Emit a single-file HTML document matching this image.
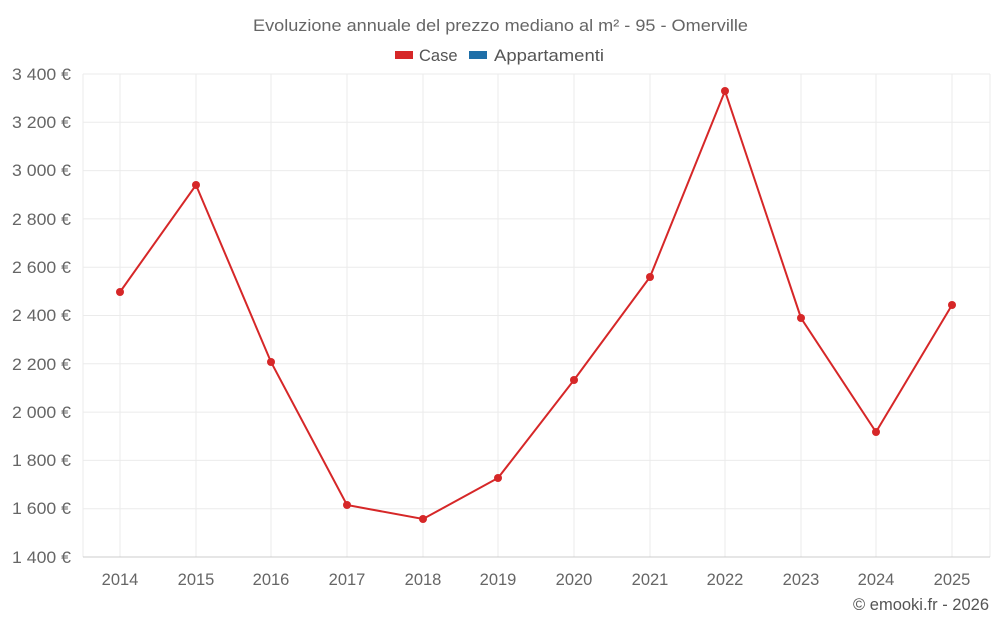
<!DOCTYPE html>
<html><head><meta charset="utf-8"><style>
body{margin:0;background:#fff;font-family:"Liberation Sans",sans-serif;}
</style></head><body>
<svg width="1000" height="625" xmlns="http://www.w3.org/2000/svg" font-family="Liberation Sans, sans-serif">
<rect width="1000" height="625" fill="#fff"/>
<text x="253" y="31" font-size="17" fill="#666" textLength="495" lengthAdjust="spacingAndGlyphs">Evoluzione annuale del prezzo mediano al m² - 95 - Omerville</text>
<rect x="395" y="51" width="18" height="8" fill="#d62728"/>
<text x="419" y="61" font-size="16.5" fill="#555">Case</text>
<rect x="469" y="51" width="18" height="8" fill="#1f6fa8"/>
<text x="494" y="61" font-size="16.5" fill="#555" textLength="110" lengthAdjust="spacingAndGlyphs">Appartamenti</text>
<g stroke="#ebebeb" stroke-width="1">
<line x1="83" y1="74" x2="990" y2="74"/><line x1="83" y1="122.3" x2="990" y2="122.3"/>
<line x1="83" y1="170.6" x2="990" y2="170.6"/><line x1="83" y1="218.9" x2="990" y2="218.9"/>
<line x1="83" y1="267.2" x2="990" y2="267.2"/><line x1="83" y1="315.5" x2="990" y2="315.5"/>
<line x1="83" y1="363.8" x2="990" y2="363.8"/><line x1="83" y1="412.1" x2="990" y2="412.1"/>
<line x1="83" y1="460.4" x2="990" y2="460.4"/><line x1="83" y1="508.7" x2="990" y2="508.7"/>
<line x1="83" y1="74" x2="83" y2="557"/>
<line x1="120" y1="74" x2="120" y2="557"/><line x1="196" y1="74" x2="196" y2="557"/>
<line x1="271" y1="74" x2="271" y2="557"/><line x1="347" y1="74" x2="347" y2="557"/>
<line x1="423" y1="74" x2="423" y2="557"/><line x1="498" y1="74" x2="498" y2="557"/>
<line x1="574" y1="74" x2="574" y2="557"/><line x1="650" y1="74" x2="650" y2="557"/>
<line x1="725" y1="74" x2="725" y2="557"/><line x1="801" y1="74" x2="801" y2="557"/>
<line x1="876" y1="74" x2="876" y2="557"/><line x1="952" y1="74" x2="952" y2="557"/>
<line x1="990" y1="74" x2="990" y2="557"/>
</g>
<line x1="83" y1="557" x2="990" y2="557" stroke="#ccc"/>
<g font-size="16.5" fill="#666" text-anchor="end">
<text x="71" y="80" textLength="59" lengthAdjust="spacingAndGlyphs">3 400 €</text><text x="71" y="128" textLength="59" lengthAdjust="spacingAndGlyphs">3 200 €</text><text x="71" y="176" textLength="59" lengthAdjust="spacingAndGlyphs">3 000 €</text>
<text x="71" y="225" textLength="59" lengthAdjust="spacingAndGlyphs">2 800 €</text><text x="71" y="273" textLength="59" lengthAdjust="spacingAndGlyphs">2 600 €</text><text x="71" y="321" textLength="59" lengthAdjust="spacingAndGlyphs">2 400 €</text>
<text x="71" y="370" textLength="59" lengthAdjust="spacingAndGlyphs">2 200 €</text><text x="71" y="418" textLength="59" lengthAdjust="spacingAndGlyphs">2 000 €</text><text x="71" y="466" textLength="59" lengthAdjust="spacingAndGlyphs">1 800 €</text>
<text x="71" y="514" textLength="59" lengthAdjust="spacingAndGlyphs">1 600 €</text><text x="71" y="563" textLength="59" lengthAdjust="spacingAndGlyphs">1 400 €</text>
</g>
<g font-size="16.5" fill="#666" text-anchor="middle">
<text x="120" y="585">2014</text><text x="196" y="585">2015</text><text x="271" y="585">2016</text>
<text x="347" y="585">2017</text><text x="423" y="585">2018</text><text x="498" y="585">2019</text>
<text x="574" y="585">2020</text><text x="650" y="585">2021</text><text x="725" y="585">2022</text>
<text x="801" y="585">2023</text><text x="876" y="585">2024</text><text x="952" y="585">2025</text>
</g>
<polyline fill="none" stroke="#d62728" stroke-width="2" points="120,292 196,185 271,362 347,505 423,519 498,478 574,380 650,277 725,91 801,318 876,432 952,305"/>
<g fill="#d62728">
<circle cx="120" cy="292" r="4"/><circle cx="196" cy="185" r="4"/><circle cx="271" cy="362" r="4"/>
<circle cx="347" cy="505" r="4"/><circle cx="423" cy="519" r="4"/><circle cx="498" cy="478" r="4"/>
<circle cx="574" cy="380" r="4"/><circle cx="650" cy="277" r="4"/><circle cx="725" cy="91" r="4"/>
<circle cx="801" cy="318" r="4"/><circle cx="876" cy="432" r="4"/><circle cx="952" cy="305" r="4"/>
</g>
<text x="989" y="610" text-anchor="end" font-size="16.5" fill="#555">© emooki.fr - 2026</text>
</svg>
</body></html>
